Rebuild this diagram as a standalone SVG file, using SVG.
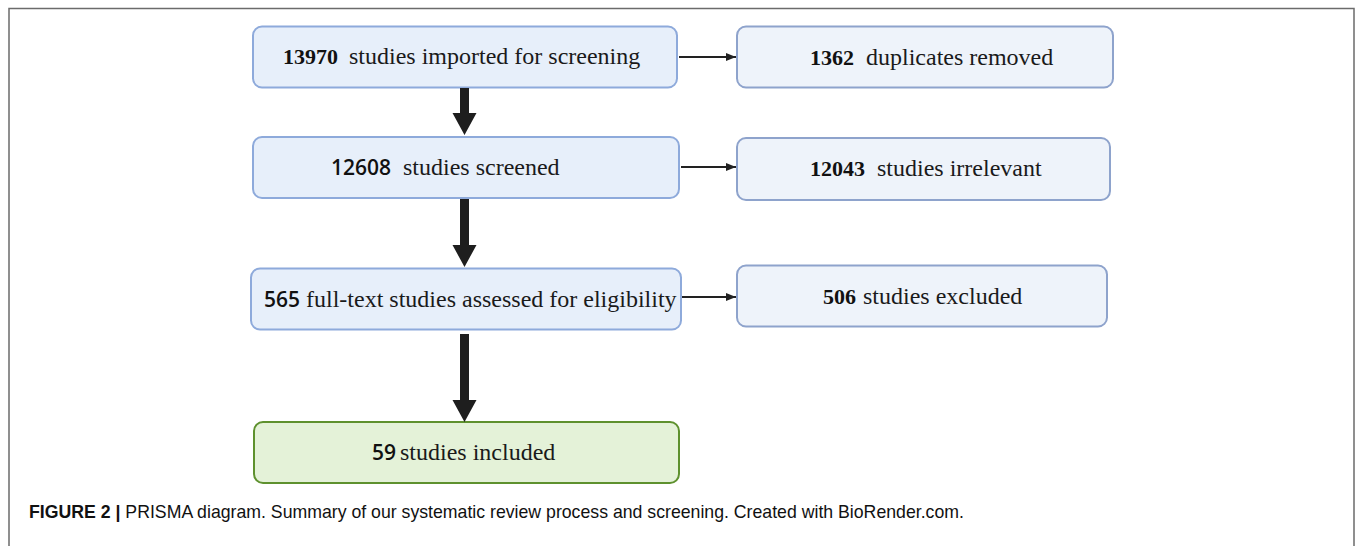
<svg xmlns="http://www.w3.org/2000/svg" width="1355" height="546" viewBox="0 0 1355 546">
<style>
.bl{fill:#e7effa;stroke:#8eaadb;stroke-width:2}
.br{fill:#eef3fa;stroke:#8ea3cc;stroke-width:2}
.bg{fill:#e4f2d8;stroke:#5e912e;stroke-width:2}
.w{font-family:"Liberation Serif",serif;font-size:24px;fill:#1a1a1a}
.n{font-family:"Liberation Serif",serif;font-size:22px;font-weight:bold;fill:#111}
.ns{font-family:"Open Sans","Noto Sans",sans-serif;font-size:21px;font-weight:600;fill:#111}
.thin{stroke:#222;stroke-width:2;fill:none}
.thick{fill:#1e1e1e}
.cap{font-family:"Liberation Sans",Arial,sans-serif;font-size:17.7px;fill:#111}
</style>
<defs>
<marker id="ah" markerUnits="userSpaceOnUse" markerWidth="11" markerHeight="10" refX="10" refY="5" orient="auto">
<path d="M0,1 L10,5 L0,9 Z" fill="#222"/>
</marker>
</defs>
<rect width="1355" height="546" fill="#fff"/>
<path d="M9,546 V8.5 H1354 V546" fill="none" stroke="#6b6b6b" stroke-width="1.5"/>

<g id="n1"><rect class="bl" x="253" y="26.5" width="424" height="61" rx="9"/>
<text class="n" x="283" y="64">13970</text><text class="w" x="349" y="64">studies imported for screening</text></g>
<g id="n2"><rect class="br" x="737" y="26.5" width="376" height="61" rx="9"/>
<text class="n" x="810" y="65">1362</text><text class="w" x="866" y="65">duplicates removed</text></g>
<g id="n3"><rect class="bl" x="253" y="137" width="426" height="61" rx="9"/>
<text class="ns" x="331" y="175">12608</text><text class="w" x="403" y="175">studies screened</text></g>
<g id="n4"><rect class="br" x="737" y="138" width="373" height="62" rx="9"/>
<text class="n" x="810" y="176">12043</text><text class="w" x="877" y="176">studies irrelevant</text></g>
<g id="n5"><rect class="bl" x="251" y="268.5" width="430" height="61" rx="9"/>
<text class="ns" x="264" y="307">565</text><text class="w" x="306" y="307">full-text studies assessed for eligibility</text></g>
<g id="n6"><rect class="br" x="737" y="265.5" width="370" height="61" rx="9"/>
<text class="n" x="823" y="304">506</text><text class="w" x="863" y="304">studies excluded</text></g>
<g id="n7"><rect class="bg" x="254" y="422" width="425" height="61" rx="9"/>
<text class="ns" x="372" y="460">59</text><text class="w" x="400" y="460">studies included</text></g>

<g id="connectors">
<polygon class="thick" points="460,88 469,88 469,113 476.5,113 464.5,135 452.5,113 460,113"/>
<polygon class="thick" points="460,199 469,199 469,245 476.5,245 464.5,267 452.5,245 460,245"/>
<polygon class="thick" points="460,334 469,334 469,400 476.5,400 464.5,422 452.5,400 460,400"/>
<line class="thin" x1="679" y1="57" x2="736" y2="57" marker-end="url(#ah)"/>
<line class="thin" x1="681" y1="167" x2="736" y2="167" marker-end="url(#ah)"/>
<line class="thin" x1="682" y1="297" x2="736" y2="297" marker-end="url(#ah)"/>
</g>

<text class="cap" x="29" y="518"><tspan font-weight="bold">FIGURE 2 | </tspan>PRISMA diagram. Summary of our systematic review process and screening. Created with BioRender.com.</text>
</svg>
